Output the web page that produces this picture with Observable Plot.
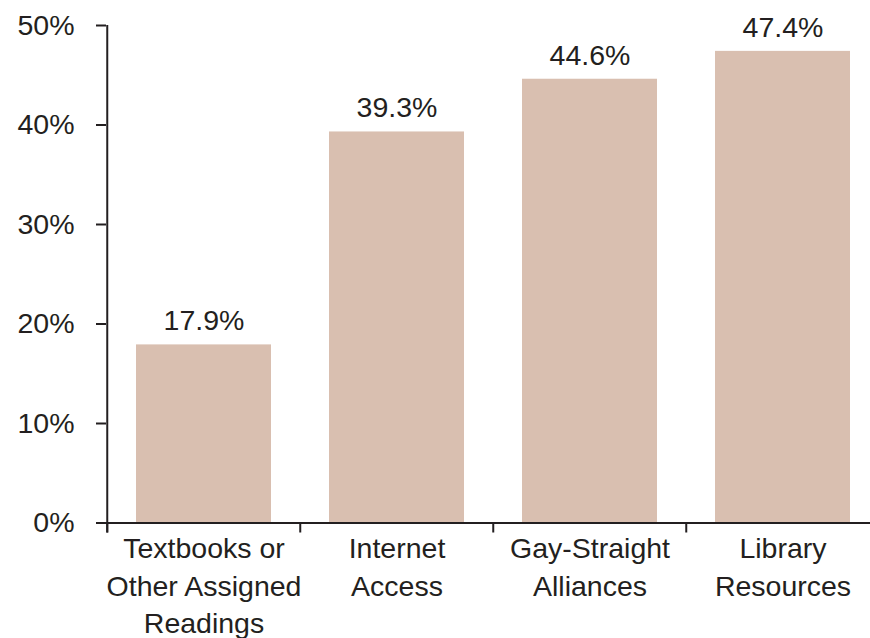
<!DOCTYPE html>
<html>
<head>
<meta charset="utf-8">
<script src="https://cdn.jsdelivr.net/npm/d3@7"></script>
<script src="https://cdn.jsdelivr.net/npm/@observablehq/plot@0.6"></script>
<style>
  html, body { margin: 0; padding: 0; background: #ffffff; }
</style>
</head>
<body>
<div id="chart"></div>
<script>
const categories = ["Textbooks or\nOther Assigned\nReadings", "Internet\nAccess", "Gay-Straight\nAlliances", "Library\nResources"];
const values = [17.9, 39.3, 44.6, 47.4];
const yTicks = [0, 10, 20, 30, 40, 50];

const data = categories.map((c, i) => ({category: c, value: values[i]}));

const ink = "#231f20";
const barColor = "#d9bfb0";
const width = 870, height = 638;
const xRange = [106, 880];
const step = (xRange[1] - xRange[0]) / categories.length;

const chart = Plot.plot({
  width, height,
  marginLeft: 106, marginRight: 0, marginTop: 25, marginBottom: 115.5,
  style: {fontFamily: "'Liberation Sans', Arial, Helvetica, sans-serif", fontSize: "28px", color: ink, background: "#ffffff", overflow: "visible"},
  x: {type: "band", domain: categories, range: xRange, paddingInner: 0.3, paddingOuter: 0.15, axis: null},
  y: {domain: [0, 50], axis: null},
  marks: [
    Plot.barY(data, {x: "category", y: "value", fill: barColor}),
    Plot.text(data, {x: "category", y: "value", text: d => d.value.toFixed(1) + "%", lineAnchor: "bottom", dy: -14.5, fontSize: 28.5, fill: ink}),
    Plot.ruleY([0], {stroke: ink, strokeWidth: 2}),
    Plot.ruleX([data[0]], {x: "category", y1: d3.max(yTicks), y2: 0, dx: -step / 2, insetBottom: -10, stroke: ink, strokeWidth: 2}),
    Plot.ruleX(data, {x: "category", y1: 0, y2: 0, dx: -step / 2, insetBottom: -10, stroke: ink, strokeWidth: 2}),
    Plot.axisY(yTicks, {tickSize: 10, tickPadding: 22, tickFormat: d => d + "%", fontSize: 28.5, color: ink, strokeWidth: 2, label: null}),
    Plot.text(data, {x: "category", y: 0, text: "category", lineAnchor: "top", dy: 8.5, fontSize: 28.5, lineHeight: 1.32, fill: ink})
  ]
});
document.getElementById("chart").appendChild(chart);
</script>
</body>
</html>
